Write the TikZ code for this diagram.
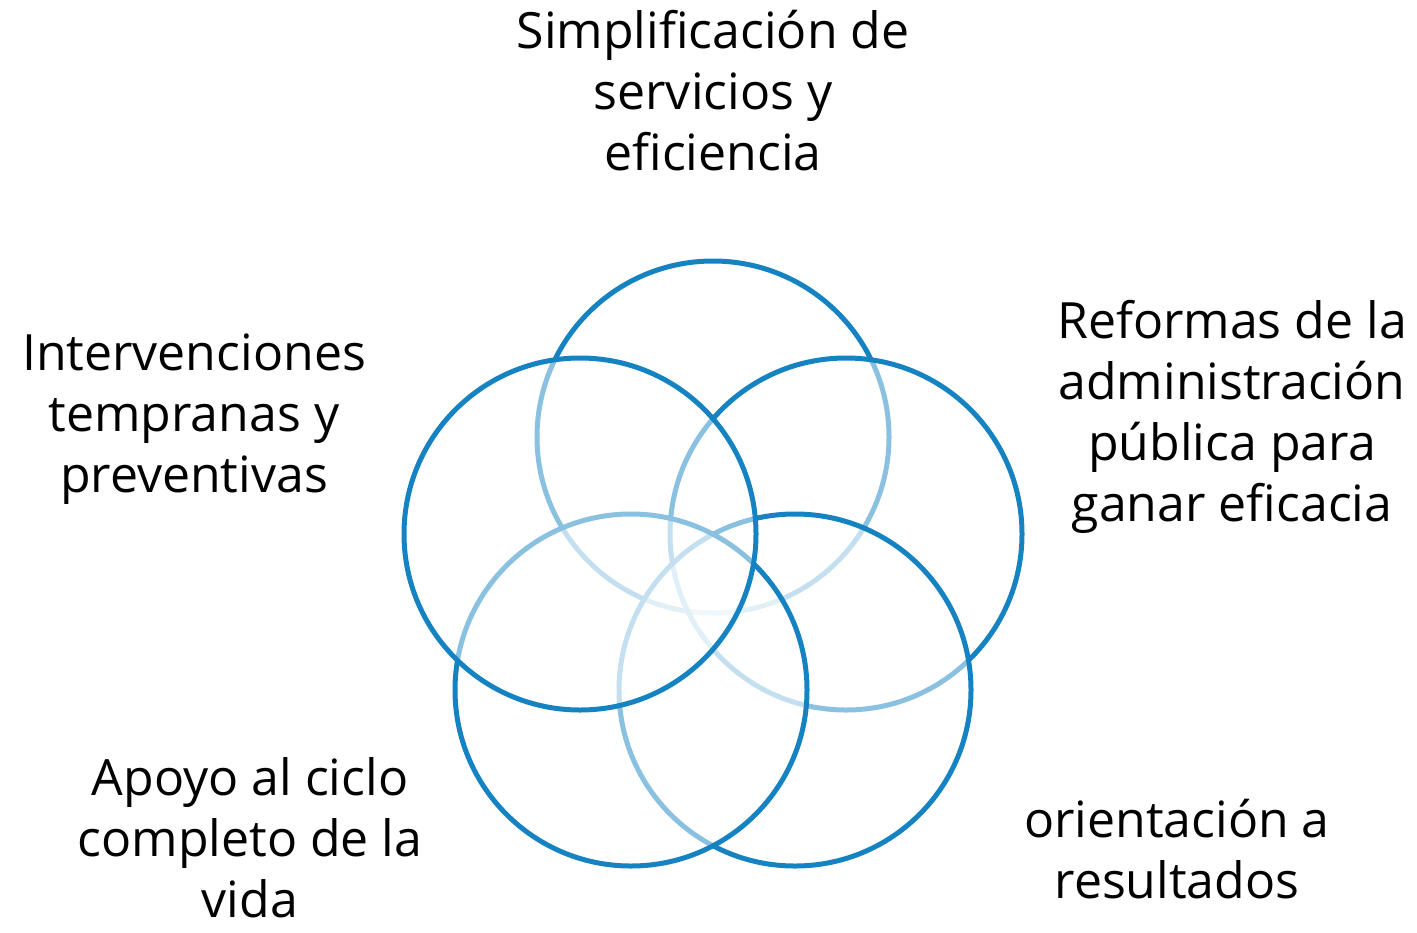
\documentclass[tikz,border=0pt]{standalone}
\usepackage{fontspec}
\setmainfont{Open Sans}
\usepackage{tikz}
\usetikzlibrary{positioning}
\definecolor{vennblue}{HTML}{1582C2}

\begin{document}
\begin{tikzpicture}[
    x=0.5pt, y=-0.5pt,
    venn/.style={draw=vennblue, circle, line width=2.5pt, fill=white, fill opacity=0.5, minimum size=176pt, inner sep=0pt},
    label/.style={anchor=north, align=center, inner sep=0pt, font=\fontsize{25}{30.5}\selectfont}
]
\useasboundingbox (0,0) rectangle (1417,932);

% circles, back to front
\node[venn] (simpl) at (713,437) {};
\node[venn] (reform) at (846,534) {};
\node[venn] (result) at (795,690) {};
\node[venn] (ciclo) at (631,690) {};
\node[venn] (interv) at (580,534) {};

% labels
\node[label] (tsimpl) at (713,10) {Simplificación de\\servicios y\\eficiencia};
\node[label] (treform) at (1232,300) {Reformas de la\\administración\\pública para\\ganar eficacia};
\node[label] (tinterv) at (194,333) {Intervenciones\\tempranas y\\preventivas};
\node[label] (tciclo) at (250,757) {Apoyo al ciclo\\completo de la\\vida};
\node[label] (tresult) at (1177,799) {orientación a\\resultados};
\end{tikzpicture}
\end{document}
